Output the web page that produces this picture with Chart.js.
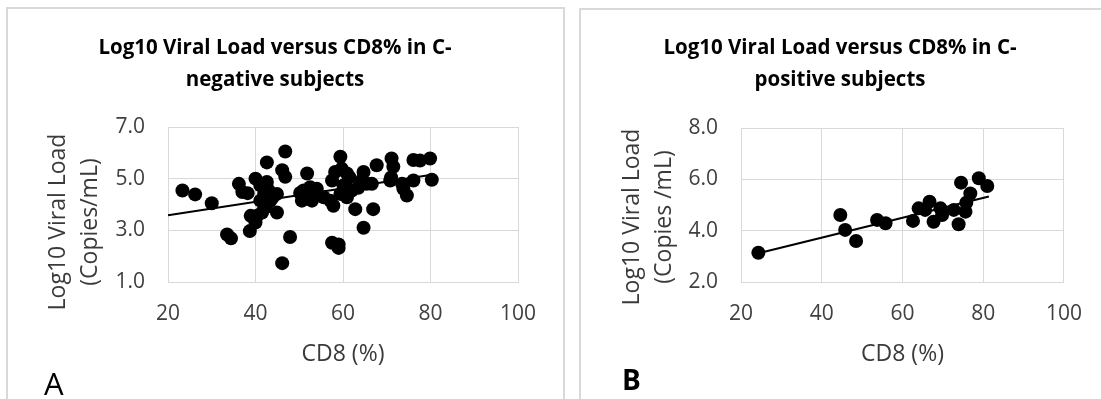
<!DOCTYPE html>
<html>
<head>
<meta charset="utf-8">
<script src="https://cdn.jsdelivr.net/npm/chart.js@4.4.1/dist/chart.umd.min.js"></script>
<style>
  html, body { margin: 0; padding: 0; background: #fff; }
  body { width: 1101px; height: 399px; position: relative; overflow: hidden; }
  .panel { position: absolute; border: 2px solid #d9d9d9; border-bottom: none; box-sizing: border-box; }
  .wrap { position: absolute; top: 0; height: 399px; }
</style>
</head>
<body>
<div class="panel" style="left:6px; top:7px; width:559px; height:400px;"></div>
<div class="panel" style="left:579px; top:8px; width:600px; height:400px;"></div>
<div class="wrap" style="left:0; width:570px;"><canvas id="chartA" width="570" height="399"></canvas></div>
<div class="wrap" style="left:570px; width:531px;"><canvas id="chartB" width="531" height="399"></canvas></div>
<script>
// C-negative subjects
const cd8Neg = [23.3, 26.2, 30.0, 33.5, 34.4, 36.2, 37.0, 38.2, 40.0, 38.9, 38.7, 40.0, 41.1, 42.6, 43.0,
  41.1, 42.3, 41.5, 40.4, 43.4, 44.9, 44.9, 42.6, 46.8, 46.1, 46.8, 47.9, 46.1, 51.8, 51.0,
  50.6, 52.5, 54.0, 52.9, 55.6, 57.1, 57.8, 57.5, 59.4, 58.2, 59.7, 60.9, 60.1, 59.4, 60.9,
  62.0, 62.8, 64.7, 64.3, 64.7, 65.4, 66.9, 66.6, 67.7, 71.1, 71.5, 70.8, 73.8, 74.6, 76.1,
  77.6, 79.9, 76.1, 80.3, 57.5, 59.0, 59.0, 43.8, 42.0, 61.5, 63.5, 53.5, 50.2, 71.0, 73.5]
const vlNeg = [4.54, 4.39, 4.05, 2.84, 2.69, 4.80, 4.48, 4.44, 5.00, 3.56, 2.97, 3.30, 4.74, 4.87, 4.54,
  4.15, 3.89, 3.69, 3.56, 4.15, 4.41, 3.69, 5.63, 6.05, 5.33, 5.07, 2.74, 1.73, 5.20, 4.54,
  4.15, 4.67, 4.61, 4.15, 4.28, 4.15, 3.95, 4.93, 5.85, 5.26, 5.39, 5.20, 4.74, 4.41, 4.28,
  4.54, 3.82, 5.26, 4.93, 3.10, 4.80, 3.82, 4.80, 5.52, 5.78, 5.46, 4.93, 4.61, 4.35, 5.72,
  5.70, 5.78, 4.93, 4.96, 2.52, 2.45, 2.32, 4.25, 4.40, 5.05, 4.65, 4.35, 4.45, 5.05, 4.80]
const trendNegX = [20, 80.3]
const trendNegY = [3.58, 5.15]

// C-positive subjects
const cd8Pos = [24.3, 44.6, 45.8, 48.5, 53.7, 55.8, 62.6, 64.0, 65.6, 66.7, 67.7, 69.4, 69.8, 72.7,
  73.9, 74.5, 75.6, 75.8, 76.8, 78.9, 81.0]
const vlPos = [3.14, 4.61, 4.03, 3.60, 4.42, 4.29, 4.38, 4.87, 4.81, 5.13, 4.35, 4.87, 4.61, 4.81,
  4.25, 5.87, 4.74, 5.09, 5.45, 6.04, 5.74]
const trendPosX = [24.3, 81.4]
const trendPosY = [3.12, 5.33]

const xTicks = [20, 40, 60, 80, 100]
const yTicksNeg = [1, 3, 5, 7]
const yTicksPos = [2, 4, 6, 8]

const FONT = "'Open Sans', sans-serif"
Chart.defaults.font.family = FONT

const toPoints = (xs, ys) => xs.map((x, i) => ({ x: x, y: ys[i] }))

// titles, axis titles and panel letters
const panelText = {
  id: 'panelText',
  afterDraw(chart, args, o) {
    const ctx = chart.ctx
    const area = chart.chartArea
    ctx.save()
    ctx.textAlign = 'center'
    ctx.textBaseline = 'middle'
    ctx.fillStyle = '#000'
    ctx.font = `bold 20.5px ${FONT}`
    o.title.forEach((line, i) => ctx.fillText(line, o.titleX, o.titleY + i * 32))

    ctx.fillStyle = '#3a3a3a'
    ctx.font = `23px ${FONT}`
    ctx.fillText('CD8 (%)', (area.left + area.right) / 2, 354)

    ctx.save()
    ctx.translate(o.yTitleX, o.yTitleY)
    ctx.rotate(-Math.PI / 2)
    o.yTitle.forEach((line, i) => ctx.fillText(line, 0, i * 32))
    ctx.restore()

    ctx.fillStyle = '#000'
    ctx.textAlign = 'left'
    ctx.textBaseline = 'alphabetic'
    ctx.font = o.letterFont
    ctx.fillText(o.letter, o.letterX, o.letterY)
    ctx.restore()
  }
}

function makeChart(id, cfg) {
  return new Chart(document.getElementById(id), {
    type: 'scatter',
    data: {
      datasets: [{
        type: 'line',
        data: toPoints(cfg.trendX, cfg.trendY),
        borderColor: '#000',
        borderWidth: 2,
        pointRadius: 0,
        fill: false
      }, {
        data: toPoints(cfg.xs, cfg.ys),
        backgroundColor: '#000',
        borderWidth: 0,
        pointRadius: 7,
        pointHoverRadius: 7
      }]
    },
    options: {
      responsive: false,
      animation: false,
      devicePixelRatio: 1,
      events: [],
      layout: { padding: { left: 100, right: cfg.padRight, top: cfg.padTop, bottom: 0 } },
      scales: {
        x: {
          type: 'linear',
          min: 20,
          max: 100,
          afterBuildTicks: (scale) => { scale.ticks = xTicks.map(v => ({ value: v })) },
          afterFit: (scale) => { scale.height = 399 - cfg.plotBottom },
          grid: { color: '#d9d9d9', lineWidth: 1, drawTicks: false },
          border: { color: '#d9d9d9' },
          ticks: { padding: 19, color: '#404040', font: { size: 21 } }
        },
        y: {
          type: 'linear',
          min: cfg.yTicks[0],
          max: cfg.yTicks[cfg.yTicks.length - 1],
          afterBuildTicks: (scale) => { scale.ticks = cfg.yTicks.map(v => ({ value: v })) },
          afterFit: (scale) => { scale.width = cfg.yWidth },
          grid: { color: '#d9d9d9', lineWidth: 1, drawTicks: false },
          border: { color: '#d9d9d9' },
          ticks: {
            padding: 23,
            color: '#404040',
            font: { size: 21 },
            callback: (v) => Number(v).toFixed(1)
          }
        }
      },
      plugins: {
        legend: { display: false },
        tooltip: { enabled: false },
        panelText: cfg.text
      }
    },
    plugins: [panelText]
  })
}

makeChart('chartA', {
  xs: cd8Neg, ys: vlNeg, trendX: trendNegX, trendY: trendNegY, yTicks: yTicksNeg,
  yWidth: 68, padRight: 52, padTop: 127, plotBottom: 282,
  text: {
    title: ['Log10 Viral Load versus CD8% in C-', 'negative subjects'],
    titleX: 275, titleY: 48,
    yTitle: ['Log10 Viral Load', '(Copies/mL)'],
    yTitleX: 58, yTitleY: 222,
    letter: 'A', letterFont: `31px ${FONT}`, letterX: 44, letterY: 395
  }
})

makeChart('chartB', {
  xs: cd8Pos, ys: vlPos, trendX: trendPosX, trendY: trendPosY, yTicks: yTicksPos,
  yWidth: 71, padRight: 37, padTop: 128, plotBottom: 282,
  text: {
    title: ['Log10 Viral Load versus CD8% in C-', 'positive subjects'],
    titleX: 270, titleY: 48,
    yTitle: ['Log10 Viral Load', '(Copies /mL)'],
    yTitleX: 62, yTitleY: 217,
    letter: 'B', letterFont: `bold 28px ${FONT}`, letterX: 52, letterY: 390
  }
})
</script>
</body>
</html>
